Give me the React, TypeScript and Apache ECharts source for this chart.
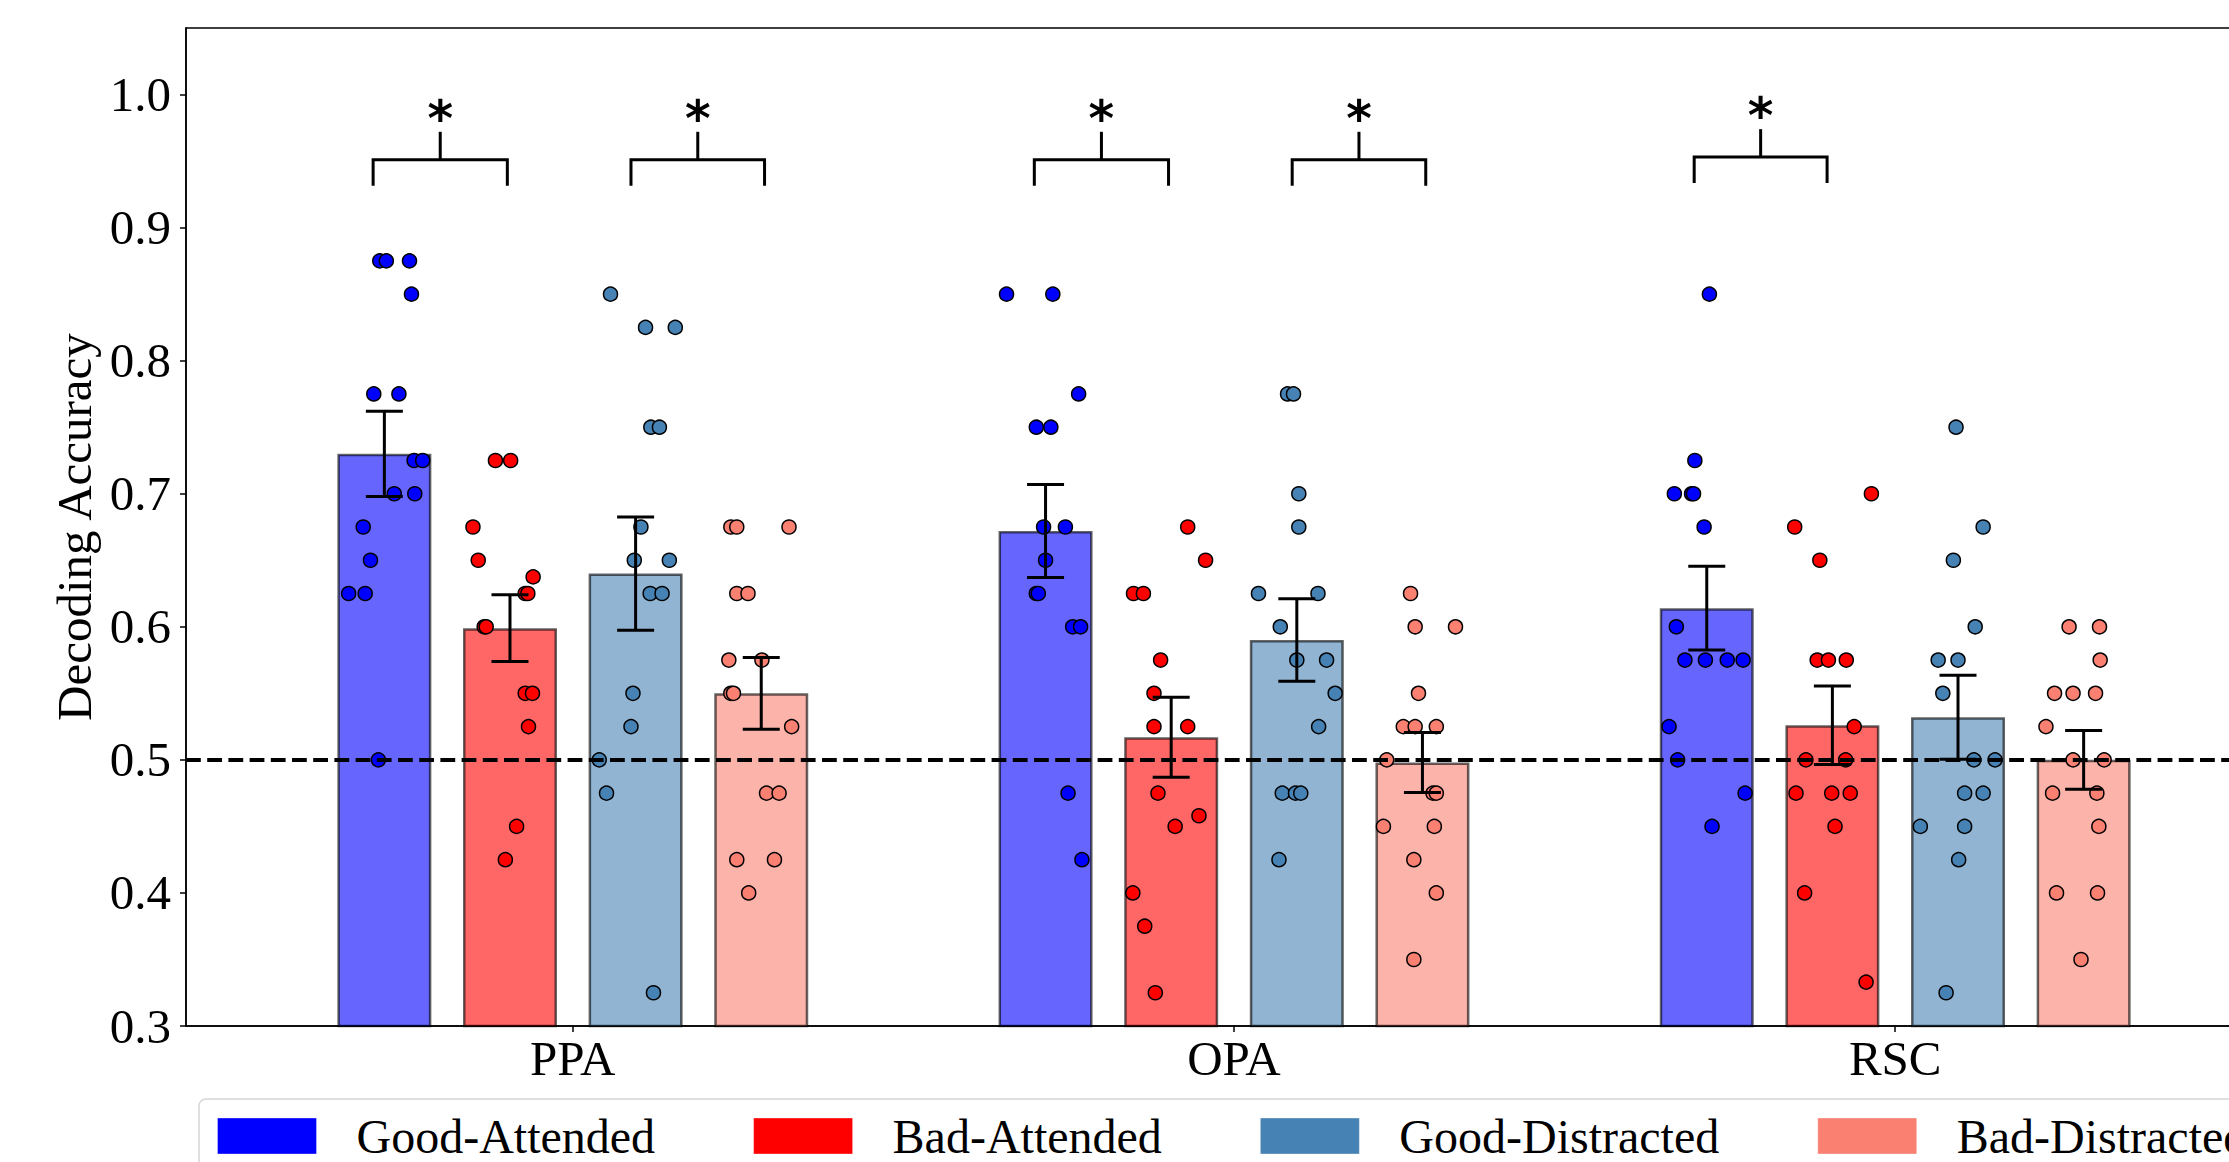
import React, { useEffect, useRef } from "react";
import * as echarts from "echarts";

// ---------- data ----------
const regions = ["PPA", "OPA", "RSC"];
const conditions = ["Good-Attended", "Bad-Attended", "Good-Distracted", "Bad-Distracted"];
const pointColors = ["#0000ff", "#ff0000", "#4682b4", "#fa8072"];
const barColors = ["rgba(0,0,255,0.6)", "rgba(255,0,0,0.6)", "rgba(70,130,180,0.6)", "rgba(250,128,114,0.6)"];
const barOffsets = [-0.285, -0.095, 0.095, 0.285];

// bar heights (mean) per region PPA, OPA, RSC
const meanGoodAttended = [0.73, 0.672, 0.614];
const meanBadAttended = [0.599, 0.517, 0.526];
const meanGoodDistracted = [0.64, 0.59, 0.532];
const meanBadDistracted = [0.55, 0.498, 0.5];

// standard errors per region
const semGoodAttended = [0.032, 0.035, 0.0315];
const semBadAttended = [0.025, 0.03, 0.0295];
const semGoodDistracted = [0.0425, 0.031, 0.0315];
const semBadDistracted = [0.027, 0.0225, 0.022];

// individual subjects: [value, horizontal jitter]
const ptsGoodAttendedPPA = [[0.875, -0.007], [0.875, 0.003], [0.875, 0.038], [0.85, 0.041], [0.775, -0.016], [0.775, 0.022], [0.725, 0.045], [0.725, 0.058], [0.7, 0.015], [0.7, 0.046], [0.675, -0.032], [0.65, -0.021], [0.625, -0.054], [0.625, -0.029], [0.5, -0.009]];
const ptsBadAttendedPPA = [[0.725, -0.022], [0.725, 0.001], [0.675, -0.056], [0.65, -0.048], [0.6375, 0.035], [0.625, 0.023], [0.625, 0.027], [0.6, -0.039], [0.6, -0.036], [0.55, 0.023], [0.55, 0.034], [0.525, 0.028], [0.45, 0.01], [0.425, -0.007]];
const ptsGoodDistractedPPA = [[0.85, -0.038], [0.825, 0.015], [0.825, 0.06], [0.75, 0.023], [0.75, 0.036], [0.675, 0.008], [0.65, -0.002], [0.65, 0.051], [0.625, 0.022], [0.625, 0.04], [0.55, -0.004], [0.525, -0.007], [0.5, -0.055], [0.475, -0.044], [0.325, 0.027]];
const ptsBadDistractedPPA = [[0.675, -0.046], [0.675, -0.037], [0.675, 0.042], [0.625, -0.037], [0.625, -0.02], [0.575, -0.049], [0.575, 0.001], [0.55, -0.046], [0.55, -0.042], [0.525, 0.046], [0.475, 0.008], [0.475, 0.027], [0.425, -0.037], [0.425, 0.02], [0.4, -0.019]];

const ptsGoodAttendedOPA = [[0.85, -0.059], [0.85, 0.011], [0.775, 0.05], [0.75, -0.014], [0.75, 0.008], [0.675, -0.003], [0.675, 0.03], [0.65, 0.0], [0.625, -0.014], [0.625, -0.011], [0.6, 0.041], [0.6, 0.053], [0.475, 0.034], [0.425, 0.055]];
const ptsBadAttendedOPA = [[0.675, 0.025], [0.65, 0.052], [0.625, -0.057], [0.625, -0.042], [0.575, -0.016], [0.55, -0.026], [0.525, -0.026], [0.525, 0.025], [0.475, -0.02], [0.458, 0.042], [0.45, 0.006], [0.4, -0.058], [0.375, -0.04], [0.325, -0.024]];
const ptsGoodDistractedOPA = [[0.775, -0.014], [0.775, -0.005], [0.7, 0.003], [0.675, 0.003], [0.625, -0.058], [0.625, 0.032], [0.6, -0.025], [0.575, 0.0], [0.575, 0.045], [0.55, 0.058], [0.525, 0.033], [0.475, -0.022], [0.475, -0.002], [0.475, 0.006], [0.425, -0.027]];
const ptsBadDistractedOPA = [[0.625, -0.018], [0.6, -0.011], [0.6, 0.05], [0.55, -0.006], [0.525, -0.029], [0.525, -0.011], [0.525, 0.021], [0.5, -0.054], [0.475, 0.016], [0.475, 0.021], [0.45, -0.059], [0.45, 0.018], [0.425, -0.013], [0.4, 0.021], [0.35, -0.013]];

const ptsGoodAttendedRSC = [[0.85, 0.004], [0.725, -0.018], [0.7, -0.049], [0.7, -0.023], [0.7, -0.02], [0.675, -0.004], [0.6, -0.046], [0.575, -0.033], [0.575, -0.002], [0.575, 0.031], [0.575, 0.055], [0.525, -0.057], [0.5, -0.044], [0.475, 0.058], [0.45, 0.008]];
const ptsBadAttendedRSC = [[0.7, 0.059], [0.675, -0.057], [0.65, -0.019], [0.575, -0.023], [0.575, -0.006], [0.575, 0.021], [0.525, 0.033], [0.5, -0.04], [0.5, 0.02], [0.475, -0.055], [0.475, -0.001], [0.475, 0.027], [0.45, 0.004], [0.4, -0.042], [0.333, 0.051]];
const ptsGoodDistractedRSC = [[0.75, -0.003], [0.675, 0.038], [0.65, -0.007], [0.6, 0.026], [0.575, -0.03], [0.575, 0.0], [0.55, -0.023], [0.5, 0.024], [0.5, 0.056], [0.475, 0.01], [0.475, 0.038], [0.45, -0.057], [0.45, 0.01], [0.425, 0.001], [0.325, -0.018]];
const ptsBadDistractedRSC = [[0.6, -0.022], [0.6, 0.024], [0.575, 0.025], [0.55, -0.044], [0.55, -0.016], [0.55, 0.018], [0.525, -0.057], [0.5, -0.016], [0.5, 0.031], [0.475, -0.047], [0.475, 0.02], [0.45, 0.023], [0.4, -0.041], [0.4, 0.021], [0.35, -0.004]];

// significance brackets: [region index, left offset, right offset, bracket height]
const brackets = [
  [0, -0.302, -0.099, 0.951],
  [0, 0.088, 0.29, 0.951],
  [1, -0.302, -0.099, 0.951],
  [1, 0.088, 0.29, 0.951],
  [2, -0.304, -0.103, 0.953],
];
const sigLabel = "*";

const yTicks = [0.3, 0.4, 0.5, 0.6, 0.7, 0.8, 0.9, 1.0];
const xTicks = [0, 1, 2];
const chanceLevel = 0.5;

const means = [meanGoodAttended, meanBadAttended, meanGoodDistracted, meanBadDistracted];
const sems = [semGoodAttended, semBadAttended, semGoodDistracted, semBadDistracted];
const points = [
  [ptsGoodAttendedPPA, ptsGoodAttendedOPA, ptsGoodAttendedRSC],
  [ptsBadAttendedPPA, ptsBadAttendedOPA, ptsBadAttendedRSC],
  [ptsGoodDistractedPPA, ptsGoodDistractedOPA, ptsGoodDistractedRSC],
  [ptsBadDistractedPPA, ptsBadDistractedOPA, ptsBadDistractedRSC],
];

const FONT = "'Liberation Serif', 'Times New Roman', serif";
const FS = 49;

export default function App() {
  const ref = useRef<HTMLDivElement>(null);

  useEffect(() => {
    if (!ref.current) return;
    const chart = echarts.init(ref.current, null, { renderer: "svg" });

    const barSeries = conditions.map((name, i) => ({
      type: "bar",
      name,
      data: regions.map((_, g) => [g + barOffsets[i], means[i][g]]),
      barWidth: 94,
      barGap: "-100%",
      itemStyle: { color: barColors[i], borderColor: "rgba(0,0,0,0.6)", borderWidth: 2.5 },
      silent: true,
      z: 2,
    }));

    const scatterSeries = conditions.map((name, i) => ({
      type: "scatter",
      name,
      data: points[i].flatMap((list, g) => list.map(([v, j]) => [g + barOffsets[i] + j, v])),
      symbol: "circle",
      symbolSize: 14,
      itemStyle: { color: pointColors[i], borderColor: "#000", borderWidth: 1.5, opacity: 1 },
      silent: true,
      z: 3,
    }));

    const errData: number[][] = [];
    conditions.forEach((_, i) =>
      regions.forEach((__, g) => {
        errData.push([g + barOffsets[i], means[i][g] - sems[i][g], means[i][g] + sems[i][g]]);
      })
    );

    const errorSeries = {
      type: "custom",
      name: "sem",
      data: errData,
      encode: { x: 0, y: [1, 2] },
      silent: true,
      z: 4,
      renderItem: (params: any, api: any) => {
        const x = api.value(0);
        const lo = api.coord([x, api.value(1)]);
        const hi = api.coord([x, api.value(2)]);
        const cap = 18.5;
        const style = { stroke: "#000", lineWidth: 3 };
        return {
          type: "group",
          children: [
            { type: "line", shape: { x1: hi[0], y1: hi[1], x2: lo[0], y2: lo[1] }, style },
            { type: "line", shape: { x1: hi[0] - cap, y1: hi[1], x2: hi[0] + cap, y2: hi[1] }, style },
            { type: "line", shape: { x1: lo[0] - cap, y1: lo[1], x2: lo[0] + cap, y2: lo[1] }, style },
          ],
        };
      },
    };

    const legDepth = 0.0195;
    const tickRise = 0.021;
    const starLift = 0.0305;
    const bracketSeries = {
      type: "custom",
      name: "brackets",
      data: brackets.map(([g, a, b, y]) => [g + a, g + b, y]),
      encode: { x: [0, 1], y: 2 },
      silent: true,
      z: 4,
      renderItem: (params: any, api: any) => {
        const x1 = api.value(0);
        const x2 = api.value(1);
        const y = api.value(2);
        const xm = (x1 + x2) / 2;
        const p1 = api.coord([x1, y - legDepth]);
        const p2 = api.coord([x1, y]);
        const p3 = api.coord([x2, y]);
        const p4 = api.coord([x2, y - legDepth]);
        const c1 = api.coord([xm, y]);
        const c2 = api.coord([xm, y + tickRise]);
        const s = api.coord([xm, y + starLift]);
        const style = { stroke: "#000", lineWidth: 3, fill: "none" };
        return {
          type: "group",
          children: [
            { type: "polyline", shape: { points: [p1, p2, p3, p4] }, style },
            { type: "line", shape: { x1: c1[0], y1: c1[1], x2: c2[0], y2: c2[1] }, style },
            {
              type: "text",
              x: s[0],
              y: s[1],
              style: {
                text: sigLabel,
                fill: "#000",
                fontFamily: "'DejaVu Sans', sans-serif",
                fontWeight: "bold",
                fontSize: FS,
                align: "center",
                verticalAlign: "middle",
              },
            },
          ],
        };
      },
      markLine: {
        silent: true,
        symbol: "none",
        label: { show: false },
        lineStyle: { color: "#000", width: 4, type: [14.8, 6.4], opacity: 1 },
        data: [{ yAxis: chanceLevel }],
        z: 6,
      },
    };

    chart.setOption({
      animation: false,
      backgroundColor: "#fff",
      grid: {
        left: 186,
        top: 28,
        width: 2096,
        height: 998,
        show: true,
        borderColor: "#000",
        borderWidth: 1.5,
        backgroundColor: "transparent",
      },
      xAxis: {
        type: "value",
        min: -0.585,
        max: 2.585,
        splitLine: { show: false },
        axisLine: { show: true, onZero: false, lineStyle: { color: "#000", width: 1.5 } },
        axisTick: { show: true, customValues: xTicks, length: 6, lineStyle: { color: "#000", width: 1.5 } },
        axisLabel: {
          customValues: xTicks,
          formatter: (v: number) => regions[Math.round(v)] ?? "",
          color: "#000",
          fontFamily: FONT,
          fontSize: FS,
          margin: 8,
        },
      },
      yAxis: {
        type: "value",
        min: 0.3,
        max: 1.05,
        interval: 0.1,
        splitLine: { show: false },
        axisLine: { show: true, onZero: false, lineStyle: { color: "#000", width: 1.5 } },
        axisTick: { show: true, customValues: yTicks, length: 6, lineStyle: { color: "#000", width: 1.5 } },
        axisLabel: {
          customValues: yTicks,
          formatter: (v: number) => v.toFixed(1),
          color: "#000",
          fontFamily: FONT,
          fontSize: FS,
          margin: 15,
        },
        name: "Decoding Accuracy",
        nameLocation: "middle",
        nameGap: 78,
        nameTextStyle: { color: "#000", fontFamily: FONT, fontSize: FS },
      },
      legend: {
        left: 199,
        top: 1099,
        orient: "horizontal",
        padding: [13, 18, 18, 18],
        itemWidth: 99,
        itemHeight: 36,
        itemGap: 98,
        borderColor: "#d5d5d5",
        borderWidth: 1.5,
        borderRadius: 7,
        backgroundColor: "#fff",
        selectedMode: false,
        textStyle: { fontFamily: FONT, fontSize: 48, lineHeight: 36, color: "#000", padding: [0, 0, 0, 35] },
        data: conditions.map((name, i) => ({
          name,
          icon: "rect",
          itemStyle: { color: pointColors[i], borderColor: "rgba(255,255,255,0.35)", borderWidth: 1, opacity: 1 },
        })),
      },
      series: [...barSeries, ...scatterSeries, errorSeries, bracketSeries],
    });

    return () => chart.dispose();
  }, []);

  return (
    <div
      style={{
        position: "fixed",
        left: 0,
        top: 0,
        width: 2229,
        height: 1162,
        overflow: "hidden",
        background: "#fff",
      }}
    >
      <div ref={ref} style={{ width: 2400, height: 1200 }} />
    </div>
  );
}
